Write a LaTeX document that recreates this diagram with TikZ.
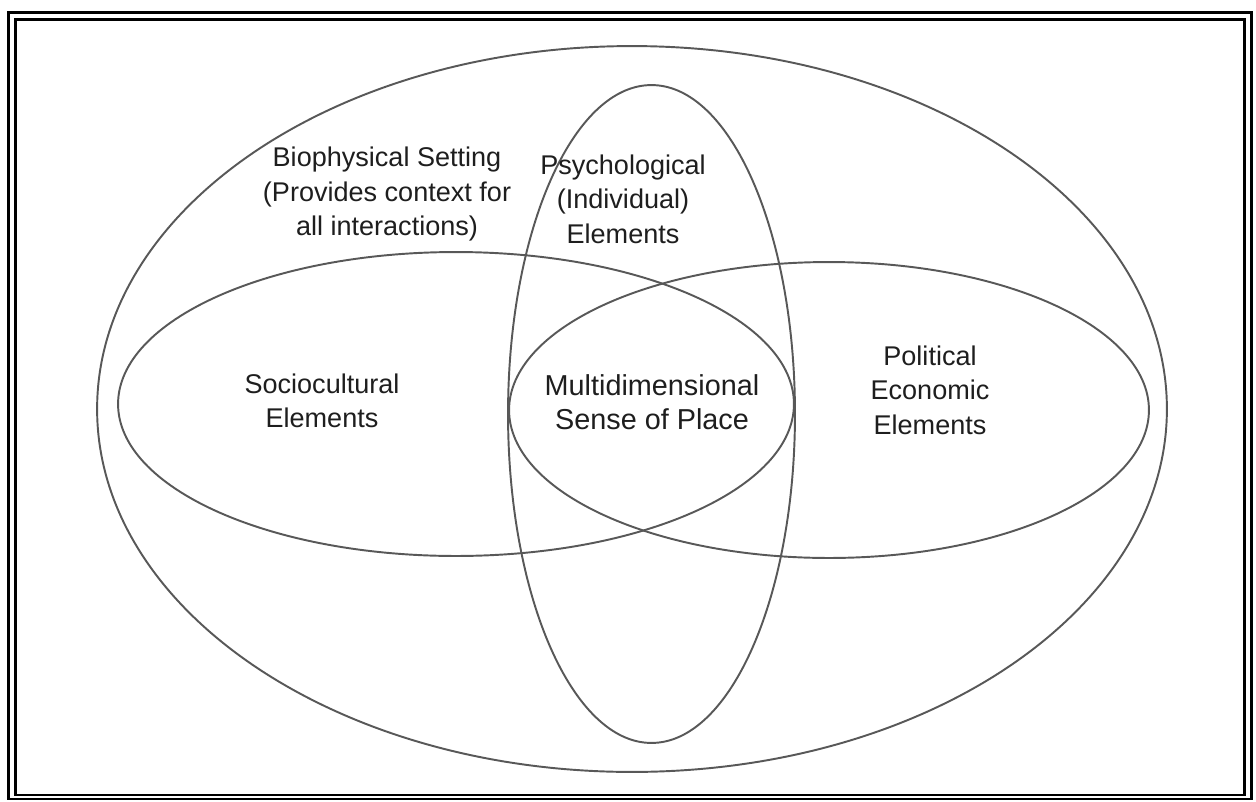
\documentclass[tikz,border=0pt]{standalone}
\usepackage{fontspec}
\setmainfont{Liberation Sans}
\usetikzlibrary{calc}
\definecolor{ringgray}{RGB}{88,88,88}
\definecolor{inkgray}{RGB}{30,30,30}
\tikzset{
  ring/.style={draw=ringgray, line width=1.1pt},
  frame/.style={draw=black, line width=1.6pt},
  label/.style={text=inkgray, align=center, inner sep=0pt,
    font=\fontsize{15.4}{19.6}\selectfont}
}

\begin{document}
\begin{tikzpicture}[x=0.02cm, y=-0.02cm]
\useasboundingbox (0,0) rectangle (1256,801);
% double frame
\draw[frame] (8.7,12.2) rectangle (1251.5,799);
\draw[frame, line width=1.4pt] (15.6,19.6) rectangle (1244.6,795);
% ellipses
\draw[ring] (632,409)   ellipse [x radius=10.7cm,  y radius=7.26cm];
\draw[ring] (651.5,414) ellipse [x radius=2.87cm,  y radius=6.58cm];
\draw[ring] (456,404)   ellipse [x radius=6.76cm,  y radius=3.04cm];
\draw[ring] (829,410)   ellipse [x radius=6.4cm,   y radius=2.96cm];
% texts
\node[label] (setting) at (387,194) {Biophysical Setting\\(Provides context for\\all interactions)};
\node[label] (psych)   at (623,199) {Psychological\\(Individual)\\Elements};
\node[label] (socio)   at (322,401) {Sociocultural\\Elements};
\node[label, font=\fontsize{16.4}{19.6}\selectfont] (place) at (652,402) {Multidimensional\\Sense of Place};
\node[label] (polit)   at (930,390) {Political\\Economic\\Elements};
\end{tikzpicture}
\end{document}
